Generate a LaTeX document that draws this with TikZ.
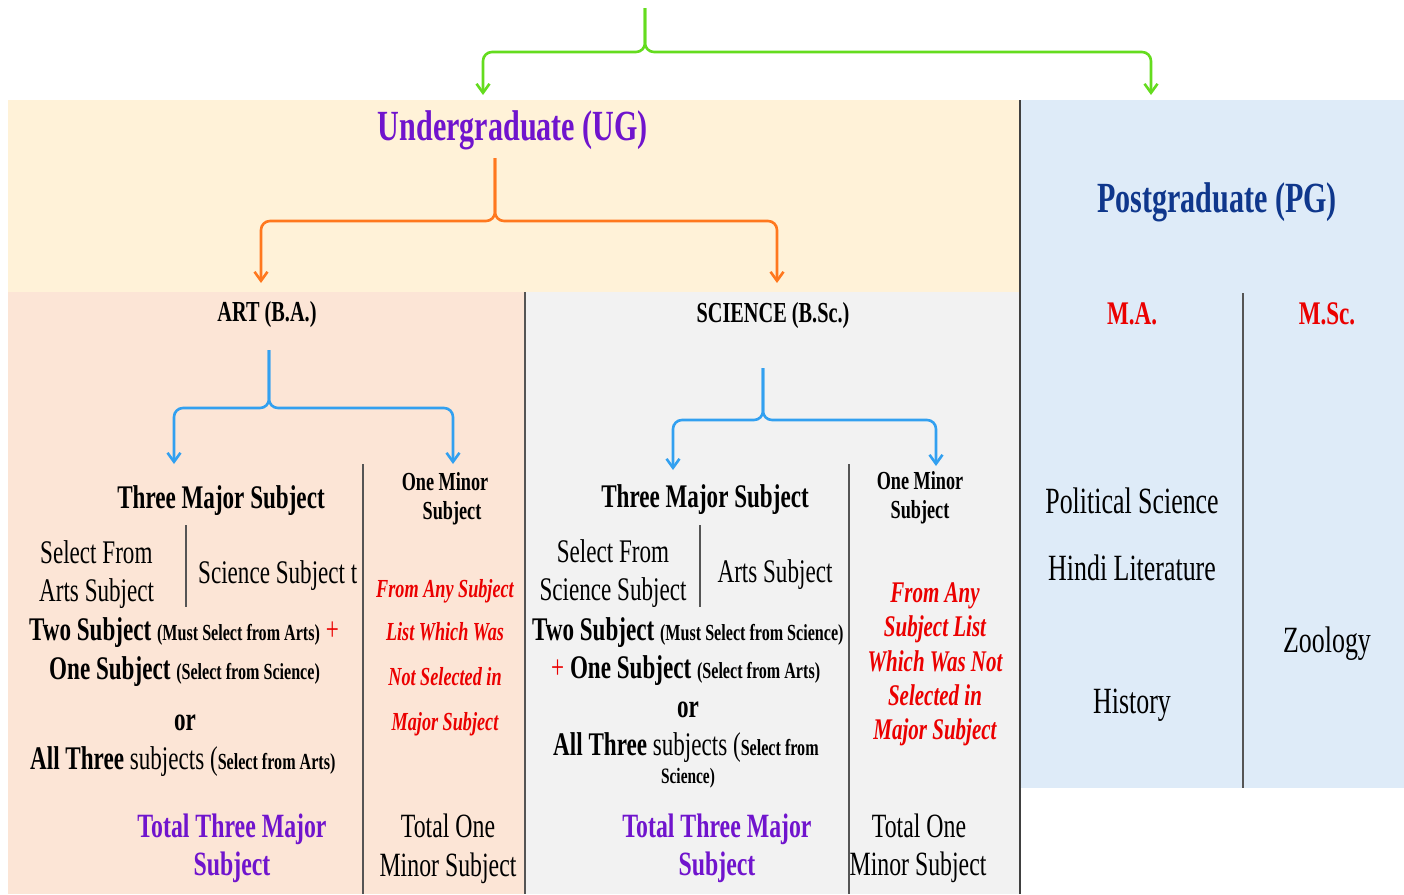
\documentclass[tikz,border=0pt]{standalone}
\usepackage{fontspec}
\setmainfont{Liberation Serif}[FakeStretch=0.7]
\usetikzlibrary{arrows.meta}

\definecolor{ugfill}{RGB}{255,242,216}
\definecolor{artfill}{RGB}{252,229,214}
\definecolor{scifill}{RGB}{242,242,242}
\definecolor{pgfill}{RGB}{222,235,248}
\definecolor{forkgreen}{RGB}{100,220,30}
\definecolor{forkorange}{RGB}{255,120,30}
\definecolor{forkblue}{RGB}{50,160,240}
\definecolor{ugpurple}{RGB}{112,20,205}
\definecolor{pgblue}{RGB}{15,55,140}
\definecolor{minred}{RGB}{235,0,0}
\definecolor{rulegray}{RGB}{85,85,85}

\newcommand{\fsz}[1]{\fontsize{#1}{#1}\selectfont}

\begin{document}
\begin{tikzpicture}[x=1pt,y=-1pt]
    \tikzstyle{fork}=[line width=2.6pt, rounded corners=9pt,
                      -{Straight Barb[length=9pt,width=13pt]}]
    \tikzstyle{rule}=[draw=rulegray, line width=1.6pt]
    \tikzstyle{lbl}=[inner sep=0pt, anchor=base, font=\fsz{33}]
    \tikzstyle{lbll}=[inner sep=0pt, anchor=base west, font=\fsz{33}]
    \tikzstyle{redline}=[lbl, text=minred, font=\fsz{26}\bfseries\itshape]

    % Draw background panels
    \useasboundingbox (0,0) rectangle (1404,894);
    \fill[white] (0,0) rectangle (1404,894);
    \fill[ugfill] (8,100) rectangle (1020,292);
    \fill[pgfill] (1020,100) rectangle (1404,788);
    \fill[artfill] (8,292) rectangle (525,894);
    \fill[scifill] (525,292) rectangle (1020,894);

    % Draw column rules
    \draw[rule] (525,292) -- (525,894);
    \draw[rule, line width=2pt, draw=black!75] (1020,100) -- (1020,894);
    \draw[rule] (363,464) -- (363,894);
    \draw[rule] (849,464) -- (849,894);
    \draw[rule, line width=1.3pt] (186,525) -- (186,607);
    \draw[rule, line width=1.3pt] (700,525) -- (700,607);
    \draw[rule] (1243,293) -- (1243,788);

    % Headings
    \node[lbl, font=\fsz{43}\bfseries, text=ugpurple] (ug) at (513,140) {Undergraduate (UG)};
    \node[lbl, font=\fsz{43}\bfseries, text=pgblue] (pg) at (1217,212) {Postgraduate (PG)};
    \node[lbl, font=\fsz{29}\bfseries] (art) at (267,321) {ART (B.A.)};
    \node[lbl, font=\fsz{29}\bfseries] (sci) at (773,322) {SCIENCE (B.Sc.)};
    \node[lbl, font=\fsz{33}\bfseries, text=minred] (ma) at (1132,324) {M.A.};
    \node[lbl, font=\fsz{33}\bfseries, text=minred] (msc) at (1327,324) {M.Sc.};

    % Forks
    \coordinate (gstem) at (645,8);    \coordinate (gbar) at (645,52);
    \coordinate (ugin) at (483,95);    \coordinate (pgin) at (1151,95);
    \draw[fork, forkgreen] (gstem) -- (gbar) -- (gbar -| ugin) -- (ugin);
    \draw[fork, forkgreen] (gstem) -- (gbar) -- (gbar -| pgin) -- (pgin);

    \coordinate (ostem) at (495,158);  \coordinate (obar) at (495,221);
    \coordinate (artin) at (261,283);  \coordinate (sciin) at (777,283);
    \draw[fork, forkorange] (ostem) -- (obar) -- (obar -| artin) -- (artin);
    \draw[fork, forkorange] (ostem) -- (obar) -- (obar -| sciin) -- (sciin);

    \coordinate (astem) at (269,350);  \coordinate (abar) at (269,408);
    \coordinate (amajin) at (174,464); \coordinate (aminin) at (453,464);
    \draw[fork, forkblue] (astem) -- (abar) -- (abar -| amajin) -- (amajin);
    \draw[fork, forkblue] (astem) -- (abar) -- (abar -| aminin) -- (aminin);

    \coordinate (sstem) at (763,368);  \coordinate (sbar) at (763,420);
    \coordinate (smajin) at (673,470); \coordinate (sminin) at (936,466);
    \draw[fork, forkblue] (sstem) -- (sbar) -- (sbar -| smajin) -- (smajin);
    \draw[fork, forkblue] (sstem) -- (sbar) -- (sbar -| sminin) -- (sminin);

    % ART column
    \node[lbl, font=\fsz{33}\bfseries] (artmajor) at (221,508) {Three Major Subject};
    \node[lbl, font=\fsz{26}\bfseries] (artminA) at (445,490) {One Minor};
    \node[lbl, font=\fsz{26}\bfseries] (artminB) at (452,519) {Subject};
    \node[lbll] (artselA) at (40,563) {Select From};
    \node[lbll] (artselB) at (39,601) {Arts Subject};
    \node[lbll] (artother) at (198,583) {Science Subject t};
    \node[lbll] (arttwo) at (29,640) {\bfseries Two Subject {\fsz{23}(Must Select from Arts)} \textcolor{minred}{\mdseries +}};
    \node[lbll] (artone) at (49,679) {\bfseries One Subject {\fsz{23}(Select from Science)}};
    \node[lbl, font=\fsz{33}\bfseries] (artor) at (185,730) {or};
    \node[lbll] (artall) at (30,769) {\textbf{All Three} subjects (\fsz{23}\bfseries Select from Arts)};
    \node[lbl, font=\fsz{34}\bfseries, text=ugpurple] (arttotA) at (232,837) {Total Three Major};
    \node[lbl, font=\fsz{34}\bfseries, text=ugpurple] (arttotB) at (232,875) {Subject};
    \node[redline] (artredA) at (445,597) {From Any Subject};
    \node[redline] (artredB) at (445,640) {List Which Was};
    \node[redline] (artredC) at (445,685) {Not Selected in};
    \node[redline] (artredD) at (445,730) {Major Subject};
    \node[lbl, font=\fsz{34}] (artoneA) at (448,837) {Total One};
    \node[lbl, font=\fsz{34}] (artoneB) at (448,876) {Minor Subject};

    % SCIENCE column
    \node[lbl, font=\fsz{33}\bfseries] (scimajor) at (705,507) {Three Major Subject};
    \node[lbl, font=\fsz{26}\bfseries] (sciminA) at (920,489) {One Minor};
    \node[lbl, font=\fsz{26}\bfseries] (sciminB) at (920,518) {Subject};
    \node[lbl] (sciselA) at (613,562) {Select From};
    \node[lbl] (sciselB) at (613,600) {Science Subject};
    \node[lbl] (sciother) at (775,582) {Arts Subject};
    \node[lbll] (scitwo) at (532,640) {\bfseries Two Subject {\fsz{23}(Must Select from Science)}};
    \node[lbll] (scione) at (551,678) {\textcolor{minred}{+} \bfseries One Subject {\fsz{23}(Select from Arts)}};
    \node[lbl, font=\fsz{33}\bfseries] (scior) at (688,717) {or};
    \node[lbll] (sciall) at (553,755) {\textbf{All Three} subjects (\fsz{23}\bfseries Select from};
    \node[lbl, font=\fsz{22}\bfseries] (sciallB) at (688,783) {Science)};
    \node[lbl, font=\fsz{34}\bfseries, text=ugpurple] (scitotA) at (717,837) {Total Three Major};
    \node[lbl, font=\fsz{34}\bfseries, text=ugpurple] (scitotB) at (717,875) {Subject};
    \node[redline, font=\fsz{30}\bfseries\itshape] (sciredA) at (935,602) {From Any};
    \node[redline, font=\fsz{30}\bfseries\itshape] (sciredB) at (935,636) {Subject List};
    \node[redline, font=\fsz{30}\bfseries\itshape] (sciredC) at (935,671) {Which Was Not};
    \node[redline, font=\fsz{30}\bfseries\itshape] (sciredD) at (935,705) {Selected in};
    \node[redline, font=\fsz{30}\bfseries\itshape] (sciredE) at (935,739) {Major Subject};
    \node[lbl, font=\fsz{34}] (scioneA) at (919,837) {Total One};
    \node[lbl, font=\fsz{34}] (scioneB) at (918,875) {Minor Subject};

    % PG columns
    \node[lbl, font=\fsz{37}] (polsci) at (1132,513) {Political Science};
    \node[lbl, font=\fsz{37}] (hindi) at (1132,580) {Hindi Literature};
    \node[lbl, font=\fsz{37}] (history) at (1132,713) {History};
    \node[lbl, font=\fsz{37}] (zoology) at (1327,652) {Zoology};
\end{tikzpicture}
\end{document}
